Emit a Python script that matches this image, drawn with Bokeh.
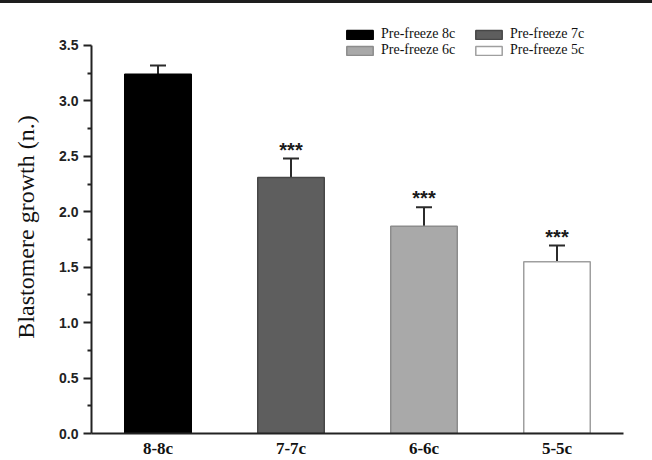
from bokeh.plotting import figure
from bokeh.layouts import column
from bokeh.models import (ColumnDataSource, FactorRange, Whisker, TeeHead, Legend,
                          LegendItem, FixedTicker, Range1d, NumeralTickFormatter, Div)
from bokeh.core.properties import value
from bokeh.embed import file_html
from bokeh.resources import INLINE

# ---- data ----
categories = ["8-8c", "7-7c", "6-6c", "5-5c"]
growth = [3.24, 2.31, 1.87, 1.55]
sem = [0.08, 0.17, 0.17, 0.145]
series_labels = ["Pre-freeze 8c", "Pre-freeze 7c", "Pre-freeze 6c", "Pre-freeze 5c"]
significance = ["", "***", "***", "***"]
y_ticks = [0.0, 0.5, 1.0, 1.5, 2.0, 2.5, 3.0, 3.5]

# ---- styles ----
fills = ["#000000", "#5e5e5e", "#a9a9a9", "#ffffff"]
edges = ["#000000", "#474747", "#8c8c8c", "#9f9f9f"]

src = ColumnDataSource(dict(
    cat=categories, top=growth,
    upper=[g + e for g, e in zip(growth, sem)],
    label=series_labels, star=significance,
    fill=fills, edge=edges,
))

# frame: 414 px tall, value 3.5 sits 25 px below the frame top
p = figure(width=652, height=457, output_backend="svg", toolbar_location=None,
           x_range=FactorRange(factors=categories), y_range=Range1d(0, 3.5 * 414 / 389),
           min_border_left=91, min_border_right=29, min_border_top=17, min_border_bottom=26)
p.outline_line_color = None
p.background_fill_color = "#ffffff"
p.border_fill_color = "#ffffff"
p.xgrid.visible = False
p.ygrid.visible = False

bars = p.vbar(x="cat", top="top", width=0.5, source=src,
              fill_color="fill", line_color="edge", line_width=1.5)

wh = Whisker(base="cat", upper="upper", lower="top", source=src, dimension="height",
             line_color="#2b2b2b", line_width=2,
             upper_head=TeeHead(size=16, line_color="#2b2b2b", line_width=2),
             lower_head=None)
p.add_layout(wh)

p.text(x="cat", y="upper", text="star", source=src, text_align="center",
       text_baseline="alphabetic", y_offset=-9, text_font=value("Liberation Sans"),
       text_font_style="bold", text_font_size="20px", text_color="#1a1a1a")

# axes
yax = p.yaxis[0]
yax.bounds = (0, 3.5)
yax.ticker = FixedTicker(ticks=y_ticks, minor_ticks=[0.25 + 0.5 * i for i in range(7)])
yax.formatter = NumeralTickFormatter(format="0.0")
yax.axis_label = "Blastomere growth (n.)"
yax.axis_label_text_font = "Liberation Serif"
yax.axis_label_text_font_style = "normal"
yax.axis_label_text_font_size = "24px"
yax.axis_label_text_color = "#111111"
yax.axis_label_standoff = 17
yax.major_label_text_font = "Liberation Sans"
yax.major_label_text_font_style = "bold"
yax.major_label_text_font_size = "14px"
yax.major_label_text_color = "#222222"
yax.major_label_standoff = 5
yax.major_tick_in = 0
yax.major_tick_out = 8
yax.minor_tick_in = 0
yax.minor_tick_out = 4
yax.axis_line_width = 2
yax.axis_line_color = "#222222"
yax.major_tick_line_width = 2
yax.major_tick_line_color = "#222222"
yax.minor_tick_line_width = 2
yax.minor_tick_line_color = "#222222"

xax = p.xaxis[0]
xax.major_tick_in = 0
xax.major_tick_out = 0
xax.minor_tick_in = 0
xax.minor_tick_out = 0
xax.major_tick_line_color = None
xax.minor_tick_line_color = None
xax.major_label_text_font = "Liberation Serif"
xax.major_label_text_font_style = "bold"
xax.major_label_text_font_size = "17px"
xax.major_label_text_color = "#111111"
xax.major_label_standoff = 5
xax.axis_line_width = 2
xax.axis_line_color = "#222222"

# legend (2 x 2)
items = [LegendItem(label=series_labels[i], renderers=[bars], index=i) for i in range(4)]
leg = Legend(items=items, location=(252, 375), orientation="horizontal", ncols=2,
             padding=0, margin=0, spacing=0, border_line_color=None,
             background_fill_alpha=0, glyph_width=33, glyph_height=11,
             label_height=11, label_width=91, label_standoff=5,
             label_text_font="Liberation Serif", label_text_font_size="14px",
             label_text_color="#111111")
p.add_layout(leg, "center")

# dark rule across the very top of the image
rule = Div(text="", width=652, height=3, margin=0,
           styles={"background-color": "#1e1e1e", "overflow": "hidden"})

layout = column(rule, p, spacing=0, margin=0)
open("out.html", "w").write(file_html(layout, INLINE))
